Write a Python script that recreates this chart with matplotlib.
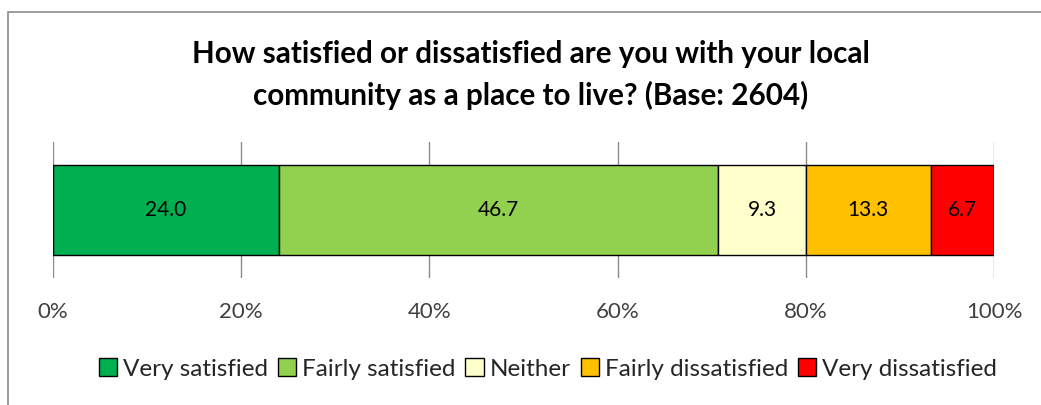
import matplotlib.pyplot as plt
from matplotlib.patches import Rectangle

# survey answers, percent of 2604 respondents
categories = ["Very satisfied", "Fairly satisfied", "Neither",
              "Fairly dissatisfied", "Very dissatisfied"]
values = [24.0, 46.7, 9.3, 13.3, 6.7]
colors = ["#00B050", "#92D050", "#FFFFCC", "#FFC000", "#FF0000"]
ticks = [0, 20, 40, 60, 80, 100]
tick_labels = ["0%", "20%", "40%", "60%", "80%", "100%"]

plt.rcParams['font.family'] = ['Lato', 'DejaVu Sans']

W, H = 1041, 405
fig = plt.figure(figsize=(W / 100, H / 100), dpi=100)

# gray chart frame (runs off the right and bottom edges)
fig.patches.append(Rectangle((8 / W, -0.1), 1.1, 1 - 12 / H + 0.1,
                             transform=fig.transFigure, fill=False,
                             edgecolor="#8C8C8C", linewidth=1.2))

ax = fig.add_axes([53 / W, 1 - 278 / H, (994 - 53) / W, (278 - 142) / H])

left = 0
for cat, val, col in zip(categories, values, colors):
    ax.barh(0, val, left=left, height=0.66, color=col, edgecolor="black",
            linewidth=1.0, label=cat, zorder=3)
    ax.text(left + val / 2, 0, "%.1f" % val, ha="center", va="center",
            fontsize=15, color="black", zorder=4)
    left += val

ax.set_xlim(0, 100)
ax.set_ylim(-0.5, 0.5)
ax.set_xticks(ticks)
ax.set_xticklabels(tick_labels, fontsize=16, color="#404040")
ax.set_yticks([])
ax.tick_params(axis="x", length=0, pad=17)
ax.grid(axis="x", color="#8C8C8C", linewidth=1.0, zorder=0)
for s in ax.spines.values():
    s.set_visible(False)

fig.text(531 / W, 1 - 75 / H,
         "How satisfied or dissatisfied are you with your local\n"
         "community as a place to live? (Base: 2604)",
         ha="center", va="center", fontsize=21.3, fontweight="bold",
         linespacing=1.55, color="black")

fig.legend(loc="center", bbox_to_anchor=(548 / W, 1 - 369 / H), ncol=5,
           frameon=False, fontsize=17.5, handlelength=0.75, handleheight=0.75,
           handletextpad=0.25, columnspacing=0.4, labelcolor="#262626")

fig.savefig("out.png", dpi=100, facecolor="white")
